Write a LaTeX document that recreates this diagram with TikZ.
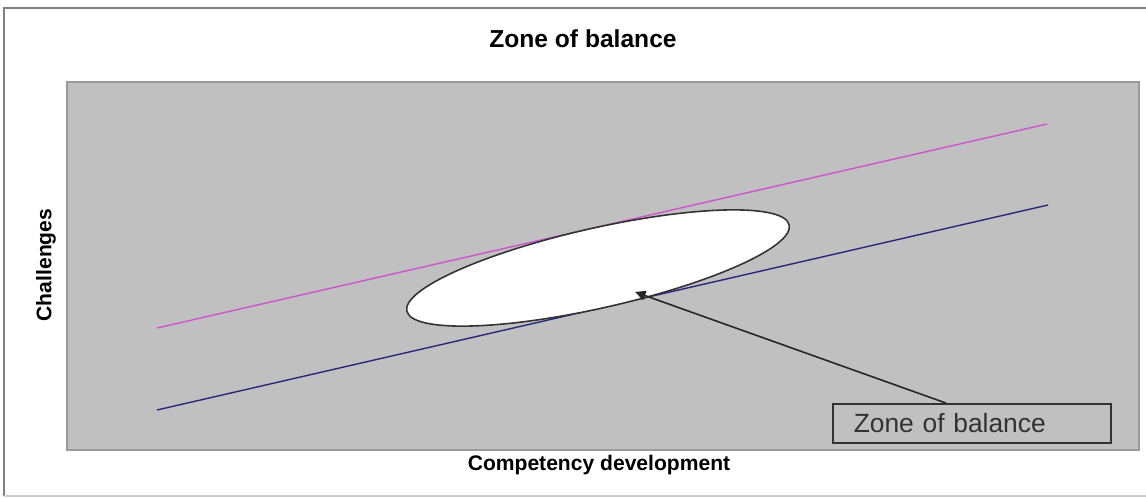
\documentclass[tikz,border=0pt]{standalone}
\usepackage{fontspec}
\setmainfont{Liberation Sans}
\usetikzlibrary{arrows.meta, positioning, shapes.geometric}
\definecolor{plotgray}{RGB}{192, 192, 192}
\definecolor{framegray}{RGB}{128, 128, 128}
\definecolor{upperline}{RGB}{205, 85, 205}
\definecolor{lowerline}{RGB}{40, 40, 125}
\definecolor{calltext}{RGB}{50, 50, 50}

\begin{document}
\begin{tikzpicture}[x=0.02cm, y=-0.02cm,
        axislabel/.style={font=\fontsize{12}{14}\selectfont\bfseries},
        trend/.style={line width=0.8pt}]
    \useasboundingbox (0,0) rectangle (1146,497);
    \fill[white] (0,0) rectangle (1146,497);
    % outer chart frame
    \draw[framegray, line width=1.2pt] (1146,8) -- (4,8) -- (4,496);
    \draw[framegray!40, line width=0.8pt] (4,496) -- (1146,496);

    \node[font=\fontsize{14}{16}\selectfont\bfseries] (title) at (583,39) {Zone of balance};

    % plot area
    \filldraw[fill=plotgray, draw=plotgray!80!black, line width=0.6pt] (67,82) rectangle (1139,450);

    \node[axislabel, rotate=90] (ylab) at (46,265) {Challenges};
    \node[axislabel] (xlab) at (599,465) {Competency development};

    % boundary lines of the zone
    \coordinate (upA) at (157,328);
    \coordinate (upB) at (1047,124);
    \coordinate (loA) at (157,410);
    \coordinate (loB) at (1048,205);
    \draw[trend, upperline] (upA) -- (upB);
    \draw[trend, lowerline] (loA) -- (loB);

    \node[ellipse, draw=black!80, fill=white, line width=0.9pt, inner sep=0pt,
          minimum width=7.84cm, minimum height=1.6cm, rotate=12.7] (zone) at (598,268) {};

    \node[draw=black!80, line width=0.9pt, anchor=north west, text width=4.72cm,
          inner xsep=0.42cm, minimum height=0.78cm, align=left, text=calltext,
          font=\fontsize{15}{17}\selectfont] (callout) at (832,403) {Zone of balance};

    \coordinate (tip) at (635,292);
    \draw[black!85, line width=0.9pt, -{Triangle[length=6pt, width=5.5pt]}]
        ([xshift=-0.52cm]callout.north) -- (tip);
\end{tikzpicture}
\end{document}
